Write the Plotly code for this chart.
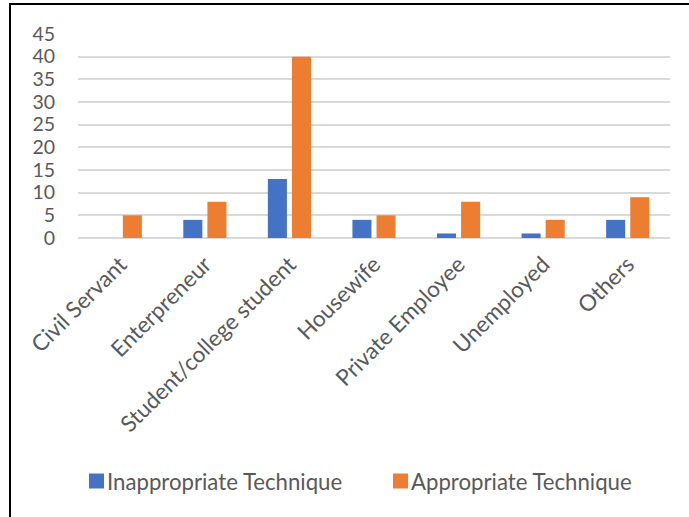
import plotly.graph_objects as go

# Occupation categories and counts per technique group
categories = ["Civil Servant", "Enterpreneur", "Student/college student", "Housewife",
              "Private Employee", "Unemployed", "Others"]
inappropriate = [0, 4, 13, 4, 1, 1, 4]
appropriate = [5, 8, 40, 5, 8, 4, 9]
y_ticks = [0, 5, 10, 15, 20, 25, 30, 35, 40, 45]
series_names = ["Inappropriate Technique", "Appropriate Technique"]

BLUE = "#4472C4"
ORANGE = "#ED7D31"
TEXT = "#595959"
FONT = "Lato, 'Open Sans', sans-serif"

fig = go.Figure()
fig.add_trace(go.Bar(x=categories, y=inappropriate, name=series_names[0],
                     marker=dict(color=BLUE, line=dict(width=0))))
fig.add_trace(go.Bar(x=categories, y=appropriate, name=series_names[1],
                     marker=dict(color=ORANGE, line=dict(width=0))))

W, H = 689, 517
L, R, T, B = 78, 670, 34, 238
pw, ph = R - L, B - T

def px_x(x):
    return (x - L) / pw

def px_y(y):
    return (B - y) / ph

# Legend row at the bottom: colour swatch followed by the series name
legend_y = 481
swatch = 15
legend_items = [(89, BLUE, series_names[0]), (393, ORANGE, series_names[1])]
shapes = [dict(type="rect", xref="paper", yref="paper",
               x0=px_x(10), x1=px_x(692), y0=px_y(520), y1=px_y(4),
               line=dict(color="black", width=2), fillcolor="rgba(0,0,0,0)", layer="above")]
annotations = []
for x0, color, label in legend_items:
    shapes.append(dict(type="rect", xref="paper", yref="paper",
                       x0=px_x(x0), x1=px_x(x0 + swatch),
                       y0=px_y(legend_y + swatch / 2), y1=px_y(legend_y - swatch / 2),
                       line=dict(width=0), fillcolor=color))
    annotations.append(dict(xref="paper", yref="paper", x=px_x(x0 + swatch + 1), y=px_y(legend_y),
                            xanchor="left", yanchor="middle", showarrow=False, text=label,
                            font=dict(family=FONT, size=22.2, color=TEXT)))

fig.update_layout(
    width=W, height=H,
    margin=dict(l=L, r=W - R, t=T, b=H - B),
    paper_bgcolor="white", plot_bgcolor="white",
    barmode="group", bargap=0.43, bargroupgap=0.21,
    font=dict(family=FONT, size=21, color=TEXT),
    showlegend=False,
    xaxis=dict(tickangle=-45, showgrid=False, showline=False, ticks="",
               ticklabelstandoff=8, automargin=False,
               tickfont=dict(family=FONT, size=22.5, color=TEXT)),
    yaxis=dict(range=[0, 45], tickvals=y_ticks, showgrid=True, gridcolor="#d9d9d9",
               gridwidth=1.5, zeroline=True, zerolinecolor="#d9d9d9", zerolinewidth=1.5,
               showline=False, ticks="", ticklabelstandoff=22, automargin=False,
               tickfont=dict(family=FONT, size=19.5, color=TEXT)),
    shapes=shapes,
    annotations=annotations,
)

fig.write_html("out.html")
